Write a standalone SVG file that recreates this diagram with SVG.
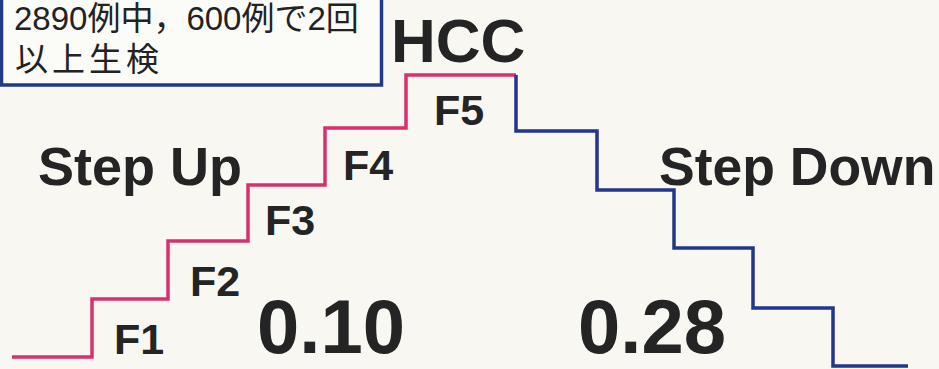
<svg xmlns="http://www.w3.org/2000/svg" width="939" height="369" viewBox="0 0 939 369">
<style>
.bg{fill:#f8f7f2}
.lbl{font-family:"Liberation Sans",Arial,sans-serif;font-weight:bold;fill:#242424}
.box{fill:#fbfbf8;stroke:#223a86;stroke-width:3.5}
.boxt{font-family:"Liberation Sans","Noto Sans CJK JP",sans-serif;font-size:33px;fill:#222}
.up{fill:none;stroke:#d8306e;stroke-width:3.5;stroke-linejoin:miter}
.down{fill:none;stroke:#22368a;stroke-width:3.5;stroke-linejoin:miter}
</style>
<rect class="bg" x="0" y="0" width="939" height="369"/>
<g id="note">
<rect class="box" x="1.5" y="-10" width="380" height="95"/>
<text class="boxt" x="14" y="30">2890例中，600例で2回</text>
<text class="boxt" x="15" y="71" letter-spacing="4">以上生検</text>
</g>
<g id="connectors">
<path id="stepup" class="up" d="M12,357 H92 V299 H168 V241 H248 V185 H325 V128 H406 V75 H516"/>
<path id="stepdown" class="down" d="M516,75 V131 H597 V190 H674 V248 H753 V308 H833 V366 H908"/>
</g>
<g id="hcc"><text class="lbl" x="391" y="62" font-size="62">HCC</text></g>
<g id="stepup-label"><text class="lbl" x="38" y="185" font-size="54">Step Up</text></g>
<g id="stepdown-label"><text class="lbl" x="659" y="185" font-size="53.5">Step Down</text></g>
<g id="val-up"><text class="lbl" x="257" y="353" font-size="76">0.10</text></g>
<g id="val-down"><text class="lbl" x="578" y="353" font-size="76">0.28</text></g>
<g id="f1"><text class="lbl" x="114" y="354" font-size="43">F1</text></g>
<g id="f2"><text class="lbl" x="190" y="296" font-size="43">F2</text></g>
<g id="f3"><text class="lbl" x="265" y="235" font-size="43">F3</text></g>
<g id="f4"><text class="lbl" x="343" y="180" font-size="43">F4</text></g>
<g id="f5"><text class="lbl" x="434" y="125" font-size="43">F5</text></g>
</svg>
